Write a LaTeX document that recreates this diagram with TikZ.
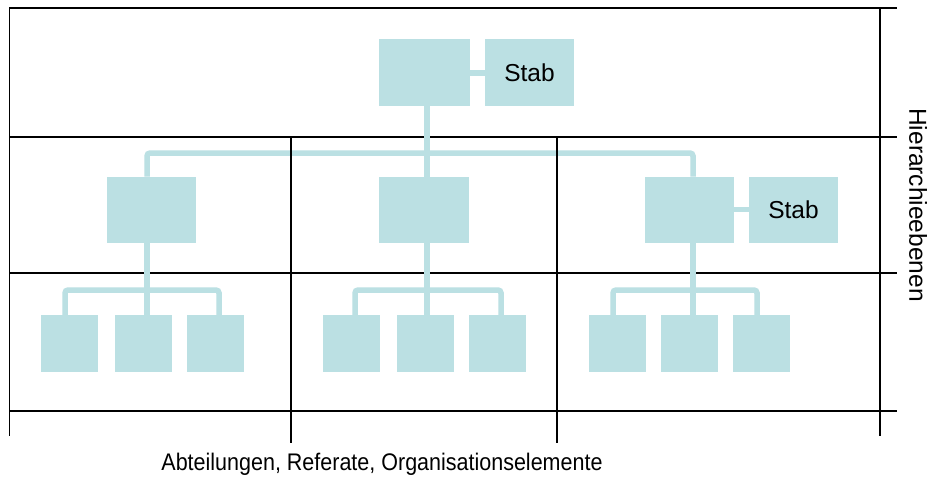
\documentclass[tikz,border=0pt]{standalone}
\usepackage{fontspec}
\setmainfont{Liberation Sans}
\definecolor{boxfill}{RGB}{187,224,227}
\begin{document}
\begin{tikzpicture}[x=1pt,y=-1pt,
  unit/.style={fill=boxfill,draw=none,inner sep=0pt,outer sep=0pt,font=\fontsize{24.5}{28}\selectfont},
  midbox/.style={unit,minimum width=89pt,minimum height=66pt},
  leaf/.style={unit,minimum width=57pt,minimum height=57pt},
  conn/.style={draw=boxfill,line width=5.5pt,rounded corners=3pt},
  grid/.style={draw=black,line width=1.6pt},
  lbl/.style={inner sep=0pt,font=\fontsize{24}{28}\selectfont}]
\fill[white] (0,0) rectangle (932,479);
\useasboundingbox (0,0) rectangle (932,479);

% hierarchy levels
\draw[grid] (9.5,8) -- (897,8);
\draw[grid] (9.5,137) -- (897,137);
\draw[grid] (9.5,273) -- (897,273);
\draw[grid] (9.5,411) -- (897,411);
\draw[grid] (9.5,7.2) -- (9.5,436);
\draw[grid] (880,7.2) -- (880,436);

% boxes
\node[unit,minimum width=91pt,minimum height=67pt] (top) at (424.5,72.5) {};
\node[unit,minimum width=89pt,minimum height=67pt] (stabA) at (529.5,72.5) {Stab};
\node[midbox] (m1) at (151.5,209.5) {};
\node[midbox,minimum width=90pt] (m2) at (424,209.5) {};
\node[midbox] (m3) at (689.5,209.5) {};
\node[midbox] (stabB) at (793.5,209.5) {Stab};

\node[leaf] (l1) at (69.5,343.5) {};
\node[leaf] (l2) at (143.5,343.5) {};
\node[leaf] (l3) at (215.5,343.5) {};
\node[leaf] (c1) at (351.5,343.5) {};
\node[leaf] (c2) at (425.5,343.5) {};
\node[leaf] (c3) at (497.5,343.5) {};
\node[leaf] (r1) at (617.5,343.5) {};
\node[leaf] (r2) at (689.5,343.5) {};
\node[leaf] (r3) at (761.5,343.5) {};

% bus ends
\coordinate (busL) at (147,153);
\coordinate (busM) at (427,153);
\coordinate (busR) at (693,153);
\coordinate (lL) at (65,290);
\coordinate (lR) at (219,290);
\coordinate (cL) at (355,290);
\coordinate (cR) at (501,290);
\coordinate (rL) at (613,290);
\coordinate (rR) at (757,290);

% connectors
\draw[conn] (top.east |- 0,73) -- (stabA.west |- 0,73);
\draw[conn] (m3.east) -- (stabB.west);
\draw[conn] (top.south -| busM) -- (m2.north -| busM);
\draw[conn] (m1.north -| busL) -- (busL) -- (busR) -- (m3.north -| busR);

\draw[conn] (m1.south -| busL) -- (l2.north -| busL);
\draw[conn] (l1.north -| lL) -- (lL) -- (lR) -- (l3.north -| lR);
\draw[conn] (m2.south -| busM) -- (c2.north -| busM);
\draw[conn] (c1.north -| cL) -- (cL) -- (cR) -- (c3.north -| cR);
\draw[conn] (m3.south -| busR) -- (r2.north -| busR);
\draw[conn] (r1.north -| rL) -- (rL) -- (rR) -- (r3.north -| rR);

% column separators
\draw[grid] (291,137) -- (291,443);
\draw[grid] (557,137) -- (557,443);

% axis labels
\node[lbl,rotate=-90,font=\fontsize{24.5}{28}\selectfont] (levels) at (918,205) {Hierarchieebenen};
\node[lbl,xscale=0.896] (units) at (382,464) {Abteilungen, Referate, Organisationselemente};
\end{tikzpicture}
\end{document}
